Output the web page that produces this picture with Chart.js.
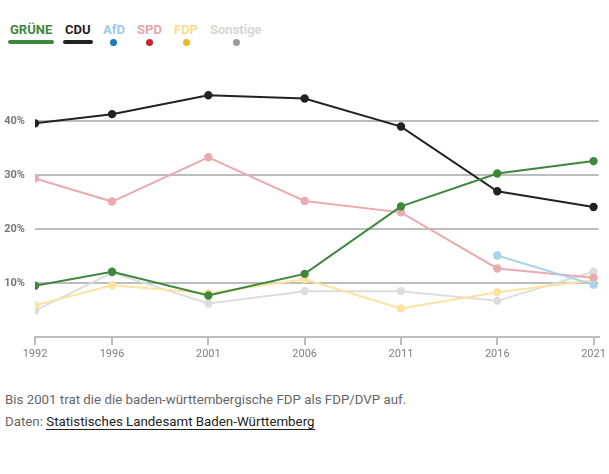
<!DOCTYPE html>
<html lang="de">
<head>
<meta charset="utf-8">
<script src="https://cdn.jsdelivr.net/npm/chart.js@4/dist/chart.umd.min.js"></script>
<style>
  body { margin: 0; background: #fff; font-family: "Roboto", "Liberation Sans", sans-serif; }
  #wrap { position: relative; width: 609px; height: 474px; }
  .legend { position: absolute; top: 22px; left: 0; }
  .item { position: absolute; top: 0; font-weight: bold; font-size: 13px; white-space: nowrap; }
  .item .mark { position: absolute; top: 18px; }
  .bar { height: 4px; border-radius: 2px; }
  .dot { width: 7px; height: 7px; border-radius: 50%; }
  #chartBox { position: absolute; left: 0; top: 60px; width: 609px; height: 310px; }
  .note { position: absolute; left: 5px; font-size: 13.3px; color: #666; }
  .note a { color: #222; text-decoration: none; border-bottom: 1px solid #222; }
</style>
</head>
<body>
<div id="wrap">
  <div class="legend" id="legend"></div>
  <div id="chartBox"><canvas id="chart"></canvas></div>
  <div class="note" style="top:392px">Bis 2001 trat die die baden-württembergische FDP als FDP/DVP auf.</div>
  <div class="note" style="top:414px">Daten: <a>Statistisches Landesamt Baden-Württemberg</a></div>
</div>
<script>
// Landtagswahlen Baden-Württemberg, Stimmenanteil in %
const years = [1992, 1996, 2001, 2006, 2011, 2016, 2021];
const gruene = [9.5, 12.1, 7.7, 11.7, 24.2, 30.3, 32.6];
const cdu = [39.6, 41.3, 44.8, 44.2, 39.0, 27.0, 24.1];
const afd = [null, null, null, null, null, 15.1, 9.7];
const spd = [29.4, 25.1, 33.3, 25.2, 23.1, 12.7, 11.0];
const fdp = [5.9, 9.6, 8.1, 10.7, 5.3, 8.3, 10.5];
const sonstige = [4.9, 11.9, 6.2, 8.5, 8.5, 6.7, 12.1];
const yTicks = [0, 10, 20, 30, 40];

const parties = [
    { name: "GRÜNE", values: gruene, line: "#3f873c", text: "#3f873c", mark: "#3f873c", bar: true, left: 10, markLeft: 8, barW: 46 },
    { name: "CDU", values: cdu, line: "#222222", text: "#222222", mark: "#222222", bar: true, left: 65, markLeft: 63, barW: 30 },
    { name: "AfD", values: afd, line: "#a9d3e8", text: "#9ccbe3", mark: "#1a7bbf", bar: false, left: 103, markLeft: 110 },
    { name: "SPD", values: spd, line: "#eaaab1", text: "#e6a3ab", mark: "#c5262c", bar: false, left: 137, markLeft: 146 },
    { name: "FDP", values: fdp, line: "#fce3a0", text: "#fbdc8e", mark: "#f6b524", bar: false, left: 174, markLeft: 183 },
    { name: "Sonstige", values: sonstige, line: "#dddddd", text: "#d6d6d6", mark: "#9a9a9a", bar: false, left: 210, markLeft: 233 }
];

document.addEventListener("DOMContentLoaded", function() {
    const legend = document.getElementById("legend");
    parties.forEach(p => {
        const el = document.createElement("div");
        el.className = "item";
        el.style.left = p.left + "px";
        el.style.color = p.text;
        el.textContent = p.name;
        const m = document.createElement("div");
        m.className = "mark " + (p.bar ? "bar" : "dot");
        m.style.background = p.mark;
        m.style.left = (p.markLeft - p.left) + "px";
        if (p.bar) m.style.width = p.barW + "px";
        else m.style.top = "17px";
        el.appendChild(m);
        legend.appendChild(el);
    });

    drawChart();
});

function drawChart() {
    const ctx = document.getElementById("chart").getContext("2d");
    const grey = "#bdbdbd";

    new Chart(ctx, {
        type: "line",
        data: {
            datasets: parties.map(p => ({
                label: p.name,
                data: years.map((y, i) => ({ x: y, y: p.values[i] })).filter(d => d.y !== null),
                borderColor: p.line,
                backgroundColor: p.line,
                pointBackgroundColor: p.line,
                pointBorderColor: p.line,
                borderWidth: 2,
                pointRadius: 3.2,
                tension: 0
            }))
        },
        options: {
            responsive: true,
            maintainAspectRatio: false,
            animation: false,
            layout: { padding: { top: 18, right: 9, bottom: 0, left: 0 } },
            plugins: { legend: { display: false }, tooltip: { enabled: false } },
            scales: {
                x: {
                    type: "linear",
                    min: 1992,
                    max: 2021.26,
                    afterBuildTicks: s => { s.ticks = years.map(v => ({ value: v })); },
                    afterFit: s => { s.height = 33; },
                    grid: { drawOnChartArea: false, drawTicks: true, tickLength: 8, color: grey, lineWidth: 2 },
                    border: { display: true, color: grey, width: 2 },
                    ticks: {
                        autoSkip: false,
                        maxRotation: 0,
                        padding: 3,
                        color: "#808080",
                        font: { family: "Roboto", size: 11 },
                        callback: v => String(v)
                    }
                },
                y: {
                    min: 0,
                    max: 48,
                    afterBuildTicks: s => { s.ticks = yTicks.map(v => ({ value: v })); },
                    afterFit: s => { s.width = 35; },
                    grid: { drawTicks: false, color: grey, lineWidth: 2 },
                    border: { display: false },
                    ticks: {
                        padding: 10,
                        color: "#777",
                        font: { family: "Roboto", size: 11, weight: "bold" },
                        callback: v => v === 0 ? "" : v + "%"
                    }
                }
            }
        }
    });
}
</script>
</body>
</html>
